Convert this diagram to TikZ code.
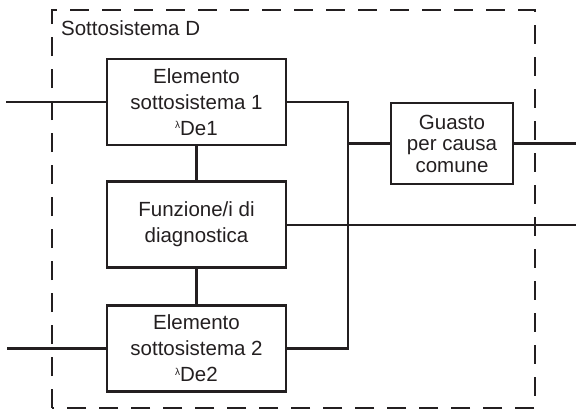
\documentclass[tikz,border=0pt]{standalone}
\usepackage{fontspec}
\setmainfont{Liberation Sans}
\definecolor{ink}{HTML}{231F20}
\newcommand\lamsup{\raisebox{6.5pt}{\fontsize{10}{10}\selectfont λ}}
\begin{document}
\begin{tikzpicture}[x=1pt,y=-1pt,
  line width=2.3pt, draw=ink,
  block/.style={draw=ink, line width=2.5pt, minimum width=179pt, minimum height=86pt,
    inner sep=0pt, align=center, text=ink,
    font=\fontsize{20.5}{26}\selectfont},
  ccfbox/.style={draw=ink, line width=2.5pt, minimum width=122pt, minimum height=81pt,
    inner sep=0pt, align=center, text=ink,
    font=\fontsize{20.5}{21.5}\selectfont},
  wire/.style={draw=ink, line width=2.3pt},
  boundary/.style={draw=ink, line width=2.3pt, dash pattern=on 19pt off 13pt}]
\useasboundingbox (0,0) rectangle (576,410);

% subsystem boundary
\draw[boundary] (52,408) -- (52,10) -- (535,10) -- (535,408) -- cycle;
\node[anchor=base west, text=ink, font=\fontsize{20.5}{22}\selectfont, inner sep=0pt]
  (title) at (60,35) {Sottosistema D};

% blocks
\node[block] (e1) at (196.5,102) {Elemento\\sottosistema 1\\\lamsup De1};
\node[block] (diag) at (196.5,224.5) {Funzione/i di\\diagnostica};
\node[block] (e2) at (196.5,348.5) {Elemento\\sottosistema 2\\\lamsup De2};
\node[ccfbox] (ccf) at (452,143.5) {Guasto\\per causa\\comune};

% terminals and junctions
\coordinate (in1) at (6,102);
\coordinate (in2) at (7,348.5);
\coordinate (bus) at (348,143.5);
\coordinate (out1) at (576,143.5);
\coordinate (out2) at (576,224.5);

% connections
\draw[wire] (in1) -- (e1.west);
\draw[wire] (in2) -- (e2.west);
\draw[wire] (e1.south) -- (diag.north);
\draw[wire] (diag.south) -- (e2.north);
\draw[wire] (e1.east) -| (bus) |- (e2.east);
\draw[wire] (bus) -- (ccf.west);
\draw[wire] (ccf.east) -- (out1);
\draw[wire, line width=2pt] (diag.east) -- (out2);
\end{tikzpicture}
\end{document}
